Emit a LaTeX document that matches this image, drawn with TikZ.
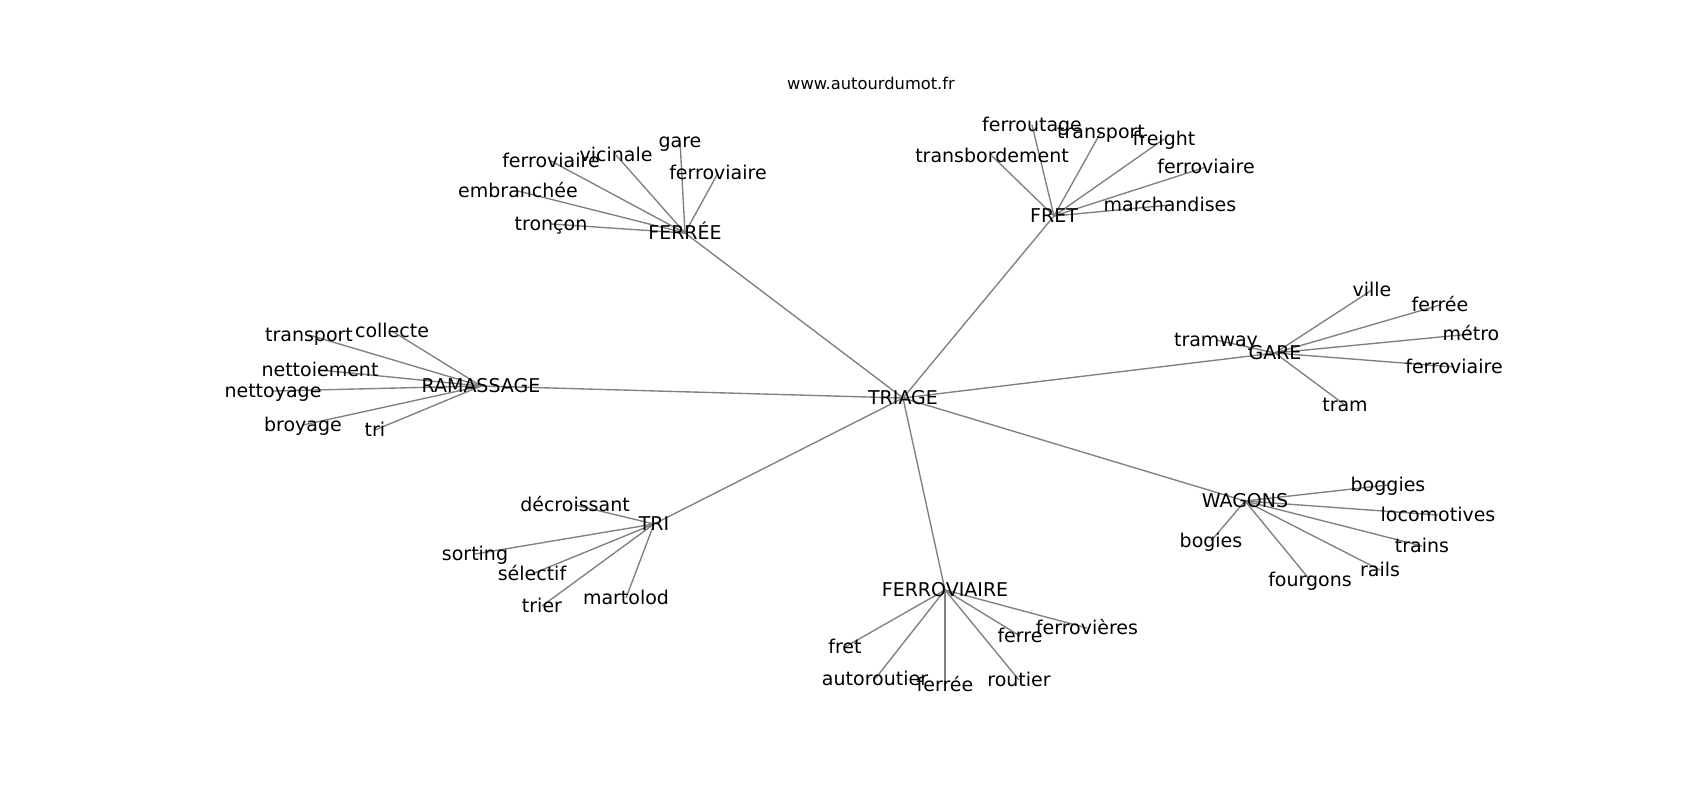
\documentclass[tikz,border=0pt]{standalone}
\usepackage{fontspec}
\setmainfont{DejaVu Sans}
\usetikzlibrary{backgrounds}
\newfontfamily\djv{DejaVu Sans}
\tikzset{
  lbl/.style={font=\djv\fontsize{19}{22}\selectfont, inner sep=0pt, text height=15.9pt, text depth=3.0pt, anchor=center},
  ttl/.style={font=\djv\fontsize{16.3}{19}\selectfont, inner sep=0pt, text height=12.4pt, text depth=3.9pt},
  edge/.style={draw=gray, line width=1.36pt}
}
\begin{document}
\begin{tikzpicture}[x=1pt,y=-1pt]
\useasboundingbox (0,0) rectangle (1700,800);
\node[ttl] (title) at (871,85) {www.autourdumot.fr};
% hubs
\node[lbl] (triage) at (903,398) {TRIAGE};
\node[lbl] (ferree) at (685,233) {FERRÉE};
\node[lbl] (fret) at (1054,216) {FRET};
\node[lbl] (ramassage) at (481,386) {RAMASSAGE};
\node[lbl] (gare) at (1275,353) {GARE};
\node[lbl] (tri) at (654,524) {TRI};
\node[lbl] (ferroviaire) at (945,590) {FERROVIAIRE};
\node[lbl] (wagons) at (1245,501) {WAGONS};
% FERREE leaves
\node[lbl] (fe1) at (551,224) {tronçon};
\node[lbl] (fe2) at (518,191) {embranchée};
\node[lbl] (fe3) at (551,161) {ferroviaire};
\node[lbl] (fe4) at (616,155) {vicinale};
\node[lbl] (fe5) at (680,141) {gare};
\node[lbl] (fe6) at (718,173) {ferroviaire};
% FRET leaves
\node[lbl] (fr1) at (992,156) {transbordement};
\node[lbl] (fr2) at (1032,125) {ferroutage};
\node[lbl] (fr3) at (1101,132) {transport};
\node[lbl] (fr4) at (1164,139) {freight};
\node[lbl] (fr5) at (1206,167) {ferroviaire};
\node[lbl] (fr6) at (1170,205) {marchandises};
% RAMASSAGE leaves
\node[lbl] (ra1) at (309,335) {transport};
\node[lbl] (ra2) at (392,331) {collecte};
\node[lbl] (ra3) at (320,370) {nettoiement};
\node[lbl] (ra4) at (273,391) {nettoyage};
\node[lbl] (ra5) at (303,425) {broyage};
\node[lbl] (ra6) at (375,430) {tri};
% GARE leaves
\node[lbl] (ga1) at (1216,340) {tramway};
\node[lbl] (ga2) at (1372,290) {ville};
\node[lbl] (ga3) at (1440,305) {ferrée};
\node[lbl] (ga4) at (1471,334) {métro};
\node[lbl] (ga5) at (1454,367) {ferroviaire};
\node[lbl] (ga6) at (1345,405) {tram};
% TRI leaves
\node[lbl] (tr1) at (575,505) {décroissant};
\node[lbl] (tr2) at (475,554) {sorting};
\node[lbl] (tr3) at (532,574) {sélectif};
\node[lbl] (tr4) at (542,606) {trier};
\node[lbl] (tr5) at (626,598) {martolod};
% FERROVIAIRE leaves
\node[lbl] (fv1) at (845,647) {fret};
\node[lbl] (fv2) at (875,679) {autoroutier};
\node[lbl] (fv3) at (945,685) {ferrée};
\node[lbl] (fv4) at (1019,680) {routier};
\node[lbl] (fv5) at (1020,636) {ferre};
\node[lbl] (fv6) at (1087,628) {ferrovières};
% WAGONS leaves
\node[lbl] (wa1) at (1388,485) {boggies};
\node[lbl] (wa2) at (1438,515) {locomotives};
\node[lbl] (wa3) at (1422,546) {trains};
\node[lbl] (wa4) at (1380,570) {rails};
\node[lbl] (wa5) at (1310,580) {fourgons};
\node[lbl] (wa6) at (1211,541) {bogies};
\begin{scope}[on background layer]
\foreach \h in {ferree,fret,ramassage,gare,tri,ferroviaire,wagons}
  \draw[edge] (triage.center) -- (\h.center);
\foreach \l in {fe1,fe2,fe3,fe4,fe5,fe6}
  \draw[edge] (ferree.center) -- (\l.center);
\foreach \l in {fr1,fr2,fr3,fr4,fr5,fr6}
  \draw[edge] (fret.center) -- (\l.center);
\foreach \l in {ra1,ra2,ra3,ra4,ra5,ra6}
  \draw[edge] (ramassage.center) -- (\l.center);
\foreach \l in {ga1,ga2,ga3,ga4,ga5,ga6}
  \draw[edge] (gare.center) -- (\l.center);
\foreach \l in {tr1,tr2,tr3,tr4,tr5}
  \draw[edge] (tri.center) -- (\l.center);
\foreach \l in {fv1,fv2,fv3,fv4,fv5,fv6}
  \draw[edge] (ferroviaire.center) -- (\l.center);
\foreach \l in {wa1,wa2,wa3,wa4,wa5,wa6}
  \draw[edge] (wagons.center) -- (\l.center);
\end{scope}
\end{tikzpicture}
\end{document}
